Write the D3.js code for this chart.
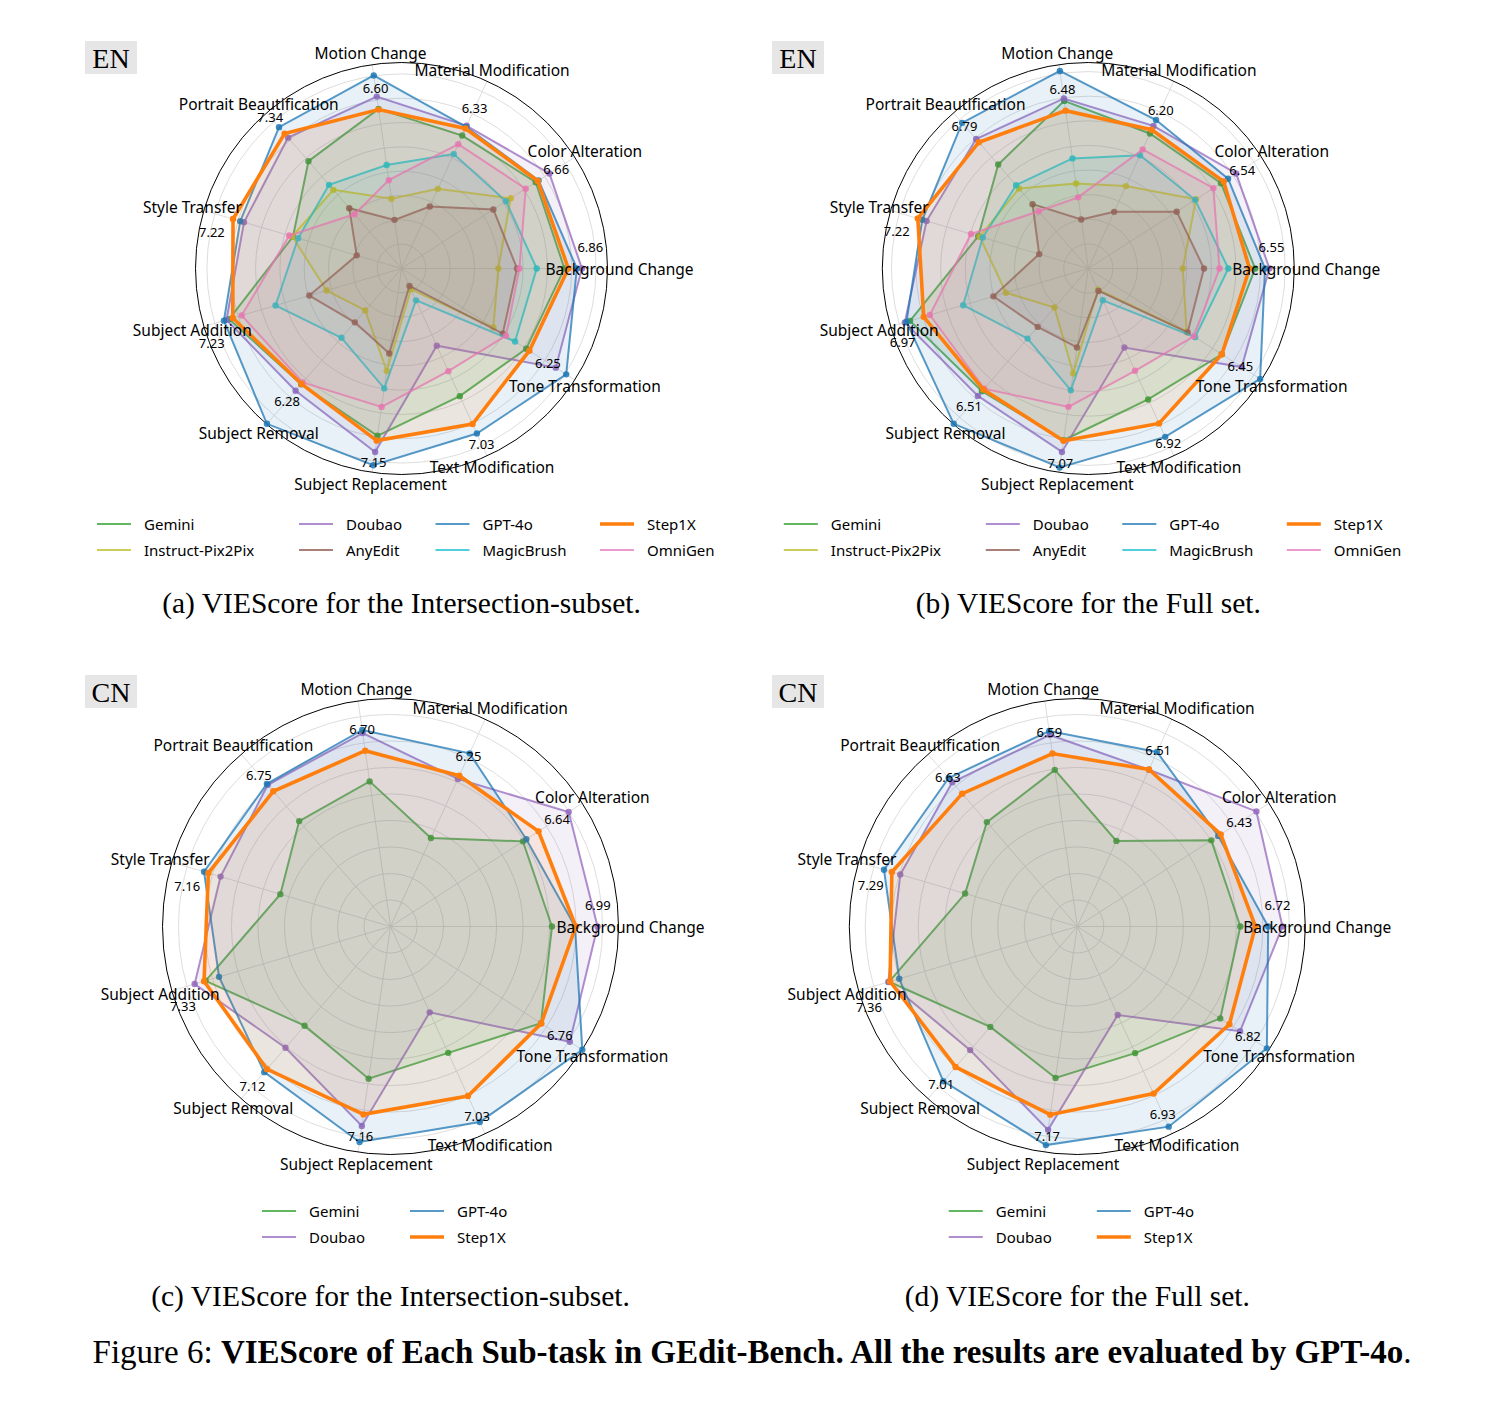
<!DOCTYPE html>
<html>
<head>
<meta charset="utf-8">
<script src="https://cdn.jsdelivr.net/npm/d3@7"></script>
<style>
  body { margin: 0; background: #fff; }
  svg { display: block; }
  .lbl { font-family: "Noto Sans", sans-serif; }
  .serif { font-family: "Liberation Serif", "Times New Roman", serif; }
</style>
</head>
<body>
<div id="fig"></div>
<script>
// sub-tasks, counter-clockwise from the right
var categories = [
  "Background Change", "Color Alteration", "Material Modification", "Motion Change",
  "Portrait Beautification", "Style Transfer", "Subject Addition", "Subject Removal",
  "Subject Replacement", "Text Modification", "Tone Transformation"
];

var models8 = ["Gemini", "Doubao", "GPT-4o", "Step1X", "Instruct-Pix2Pix", "AnyEdit", "MagicBrush", "OmniGen"];
var models4 = ["Gemini", "GPT-4o", "Doubao", "Step1X"];

var colors = {
  "Gemini": "#2ca02c", "Doubao": "#9467bd", "GPT-4o": "#1f77b4", "Step1X": "#ff7f0e",
  "Instruct-Pix2Pix": "#bcbd22", "AnyEdit": "#8c564b", "MagicBrush": "#17becf", "OmniGen": "#e377c2"
};

// (a) EN, intersection subset
var enInterGemini     = [6.70, 6.56, 6.01, 6.63, 5.84, 4.65, 7.39, 6.30, 6.95, 5.77, 6.10];
var enInterDoubao     = [7.42, 7.23, 6.45, 7.14, 7.12, 6.75, 7.50, 6.65, 7.62, 3.49, 7.54];
var enInterGPT        = [7.21, 6.70, 6.40, 8.02, 7.69, 6.91, 7.61, 8.45, 8.17, 7.46, 8.05];
var enInterStep1X     = [6.86, 6.66, 6.33, 6.60, 7.34, 7.22, 7.23, 6.28, 7.15, 7.03, 6.25];
var enInterIP2P       = [3.98, 5.34, 3.60, 2.90, 4.28, 4.68, 3.21, 2.28, 4.26, 0.94, 4.49];
var enInterAnyEdit    = [4.75, 4.49, 2.80, 2.02, 3.28, 1.92, 3.95, 2.93, 3.53, 0.79, 4.95];
var enInterMagicBrush = [5.56, 5.11, 5.17, 4.30, 4.55, 4.43, 5.40, 3.77, 4.98, 1.44, 5.55];
var enInterOmniGen    = [4.85, 6.07, 5.62, 3.67, 2.95, 4.81, 6.85, 6.20, 5.75, 4.64, 5.11];

// (b) EN, full set
var enFullGemini     = [6.78, 6.41, 6.03, 6.88, 5.59, 4.66, 7.55, 6.60, 7.05, 5.85, 6.45];
var enFullDoubao     = [7.36, 7.14, 6.37, 6.98, 6.96, 6.85, 7.77, 6.85, 7.53, 3.53, 7.41];
var enFullGPT        = [7.18, 6.75, 6.63, 8.11, 7.83, 7.03, 7.70, 8.35, 8.17, 7.52, 8.30];
var enFullStep1X     = [6.55, 6.54, 6.20, 6.48, 6.79, 7.22, 6.97, 6.51, 7.07, 6.92, 6.45];
var enFullIP2P       = [3.84, 5.20, 3.68, 3.49, 4.30, 4.60, 3.49, 2.10, 4.31, 0.95, 4.75];
var enFullAnyEdit    = [4.70, 4.27, 2.53, 2.01, 3.46, 2.08, 4.02, 3.14, 3.24, 1.00, 4.80];
var enFullMagicBrush = [5.69, 5.16, 5.06, 4.52, 4.48, 4.47, 5.30, 3.77, 5.00, 1.42, 5.16];
var enFullOmniGen    = [5.33, 6.04, 5.32, 2.92, 3.08, 4.97, 6.71, 6.46, 5.68, 4.57, 5.10];

// (c) CN, intersection subset
var cnInterGemini = [6.09, 5.94, 3.67, 5.53, 5.26, 4.33, 7.27, 4.95, 5.80, 5.24, 6.75];
var cnInterDoubao = [7.81, 7.99, 6.12, 7.37, 7.07, 6.68, 7.70, 6.05, 7.60, 3.56, 8.04];
var cnInterGPT    = [6.96, 6.09, 7.18, 7.49, 7.12, 7.33, 6.74, 7.27, 8.21, 8.11, 8.60];
var cnInterStep1X = [6.99, 6.64, 6.25, 6.70, 6.75, 7.16, 7.33, 7.12, 7.16, 7.03, 6.76];

// (d) CN, full set
var cnFullGemini = [6.15, 6.01, 3.55, 5.97, 5.21, 4.41, 7.40, 5.01, 5.77, 5.25, 6.41];
var cnFullDoubao = [7.74, 8.03, 6.50, 7.30, 7.20, 6.96, 7.43, 6.17, 7.75, 3.67, 7.30];
var cnFullGPT    = [7.20, 6.32, 7.24, 7.45, 7.41, 7.60, 7.00, 7.72, 8.33, 8.30, 8.50];
var cnFullStep1X = [6.72, 6.43, 6.51, 6.59, 6.63, 7.29, 7.36, 7.01, 7.17, 6.93, 6.82];

var panels = [
  { cx: 401.5, cy: 268.5, R: 206, rMax: 8.47, tag: "EN", cols: 4, legendY: 524,
    caption: "(a) VIEScore for the Intersection-subset.", capY: 613,
    series: { "Gemini": enInterGemini, "Doubao": enInterDoubao, "GPT-4o": enInterGPT, "Step1X": enInterStep1X,
              "Instruct-Pix2Pix": enInterIP2P, "AnyEdit": enInterAnyEdit, "MagicBrush": enInterMagicBrush, "OmniGen": enInterOmniGen } },
  { cx: 1088.3, cy: 268.5, R: 206, rMax: 8.37, tag: "EN", cols: 4, legendY: 524,
    caption: "(b) VIEScore for the Full set.", capY: 613,
    series: { "Gemini": enFullGemini, "Doubao": enFullDoubao, "GPT-4o": enFullGPT, "Step1X": enFullStep1X,
              "Instruct-Pix2Pix": enFullIP2P, "AnyEdit": enFullAnyEdit, "MagicBrush": enFullMagicBrush, "OmniGen": enFullOmniGen } },
  { cx: 390.5, cy: 926.5, R: 228, rMax: 8.6, tag: "CN", cols: 2, legendY: 1211,
    caption: "(c) VIEScore for the Intersection-subset.", capY: 1306,
    series: { "Gemini": cnInterGemini, "Doubao": cnInterDoubao, "GPT-4o": cnInterGPT, "Step1X": cnInterStep1X } },
  { cx: 1077.3, cy: 926.5, R: 228, rMax: 8.6, tag: "CN", cols: 2, legendY: 1211,
    caption: "(d) VIEScore for the Full set.", capY: 1306,
    series: { "Gemini": cnFullGemini, "Doubao": cnFullDoubao, "GPT-4o": cnFullGPT, "Step1X": cnFullStep1X } }
];

var svg = d3.select("#fig").append("svg")
  .attr("width", 1504).attr("height", 1416);

var n = categories.length;
// math angle (ccw from east)
function ang(i) { return i * 2 * Math.PI / n; }

function drawPanel(p, k) {
  var left = k % 2 == 0 ? 0 : 687;
  var top = k < 2 ? 0 : 634;
  var r = d3.scaleLinear().domain([0, p.rMax]).range([0, p.R]);
  var g = svg.append("g").attr("transform", "translate(" + p.cx + "," + p.cy + ")");

  // grid rings
  g.selectAll(".ring").data(d3.range(1, Math.floor(p.rMax) + 1)).enter()
    .append("circle")
      .attr("r", d => r(d))
      .attr("fill", "none")
      .attr("stroke", "#d9d9d9")
      .attr("stroke-width", 0.9);
  // spokes
  g.selectAll(".spoke").data(categories).enter()
    .append("line")
      .attr("x1", 0).attr("y1", 0)
      .attr("x2", (d, i) => r(p.rMax) * Math.cos(ang(i)))
      .attr("y2", (d, i) => -r(p.rMax) * Math.sin(ang(i)))
      .attr("stroke", "#d9d9d9")
      .attr("stroke-width", 0.9);
  g.append("circle").attr("r", r(p.rMax))
    .attr("fill", "none").attr("stroke", "#000").attr("stroke-width", 1);

  var radial = d3.lineRadial()
    .angle((d, i) => Math.PI / 2 - ang(i))
    .radius(d => r(d))
    .curve(d3.curveLinearClosed);

  var order = Object.keys(p.series).filter(m => m != "Step1X").concat(["Step1X"]);
  order.forEach(m => {
    var vals = p.series[m];
    var thick = m == "Step1X";
    g.append("path")
      .attr("d", radial(vals))
      .attr("fill", colors[m])
      .attr("fill-opacity", 0.1)
      .attr("stroke", colors[m])
      .attr("stroke-opacity", thick ? 1 : 0.75)
      .attr("stroke-width", thick ? 3.6 : 2);
    g.selectAll(null).data(vals).enter()
      .append("circle")
        .attr("cx", (d, i) => r(d) * Math.cos(ang(i)))
        .attr("cy", (d, i) => -r(d) * Math.sin(ang(i)))
        .attr("r", 3.2)
        .attr("fill", colors[m])
        .attr("fill-opacity", thick ? 1 : 0.85);
  });

  // category labels
  g.selectAll(".cat").data(categories).enter()
    .append("text")
      .attr("class", "lbl")
      .attr("x", (d, i) => (p.R + 12) * Math.cos(ang(i)))
      .attr("y", (d, i) => -(p.R + 12) * Math.sin(ang(i)))
      .attr("text-anchor", "middle")
      .attr("dominant-baseline", "central")
      .attr("font-size", 15.5)
      .text(d => d);

  // Step1X value annotations
  g.selectAll(".val").data(p.series["Step1X"]).enter()
    .append("text")
      .attr("class", "lbl")
      .attr("x", (d, i) => (r(d) + 22) * Math.cos(ang(i)))
      .attr("y", (d, i) => {
        var c = Math.cos(ang(i));
        var dy = c > 0.9 ? -22 : (c < -0.9 ? 19 : 0);
        return -(r(d) + 22) * Math.sin(ang(i)) + dy;
      })
      .attr("text-anchor", "middle")
      .attr("dominant-baseline", "central")
      .attr("font-size", 13)
      .text(d => d.toFixed(2));

  // EN / CN tag
  var tag = svg.append("g").attr("transform", "translate(" + (85 + left) + "," + (41 + top) + ")");
  tag.append("rect").attr("width", 52).attr("height", 33).attr("fill", "#e6e6e6");
  tag.append("text").attr("class", "serif")
    .attr("x", 26).attr("y", 17).attr("text-anchor", "middle")
    .attr("dominant-baseline", "central").attr("font-size", 28)
    .text(p.tag);

  // legend
  var names = p.cols == 4 ? models8 : models4;
  var colX = p.cols == 4 ? [-304.5, -102.5, 34, 198.5] : [-128.5, 19.5];
  var lg = svg.append("g");
  names.forEach((m, j) => {
    var cx = p.cx + colX[j % p.cols];
    var cy = p.legendY + Math.floor(j / p.cols) * 26;
    lg.append("line")
      .attr("x1", cx).attr("x2", cx + 34)
      .attr("y1", cy).attr("y2", cy)
      .attr("stroke", colors[m])
      .attr("stroke-opacity", m == "Step1X" ? 1 : 0.75)
      .attr("stroke-width", m == "Step1X" ? 3.6 : 2);
    lg.append("text").attr("class", "lbl")
      .attr("x", cx + 47).attr("y", cy)
      .attr("dominant-baseline", "central")
      .attr("font-size", 15)
      .text(m);
  });

  svg.append("text").attr("class", "serif")
    .attr("x", p.cx).attr("y", p.capY)
    .attr("text-anchor", "middle")
    .attr("font-size", 29.5)
    .text(p.caption);
}

panels.forEach(drawPanel);

var fc = svg.append("text").attr("class", "serif")
  .attr("x", 752).attr("y", 1363)
  .attr("text-anchor", "middle")
  .attr("font-size", 33);
fc.append("tspan").text("Figure 6: ");
fc.append("tspan").attr("font-weight", "bold")
  .text("VIEScore of Each Sub-task in GEdit-Bench. All the results are evaluated by GPT-4o");
fc.append("tspan").text(".");
</script>
</body>
</html>
